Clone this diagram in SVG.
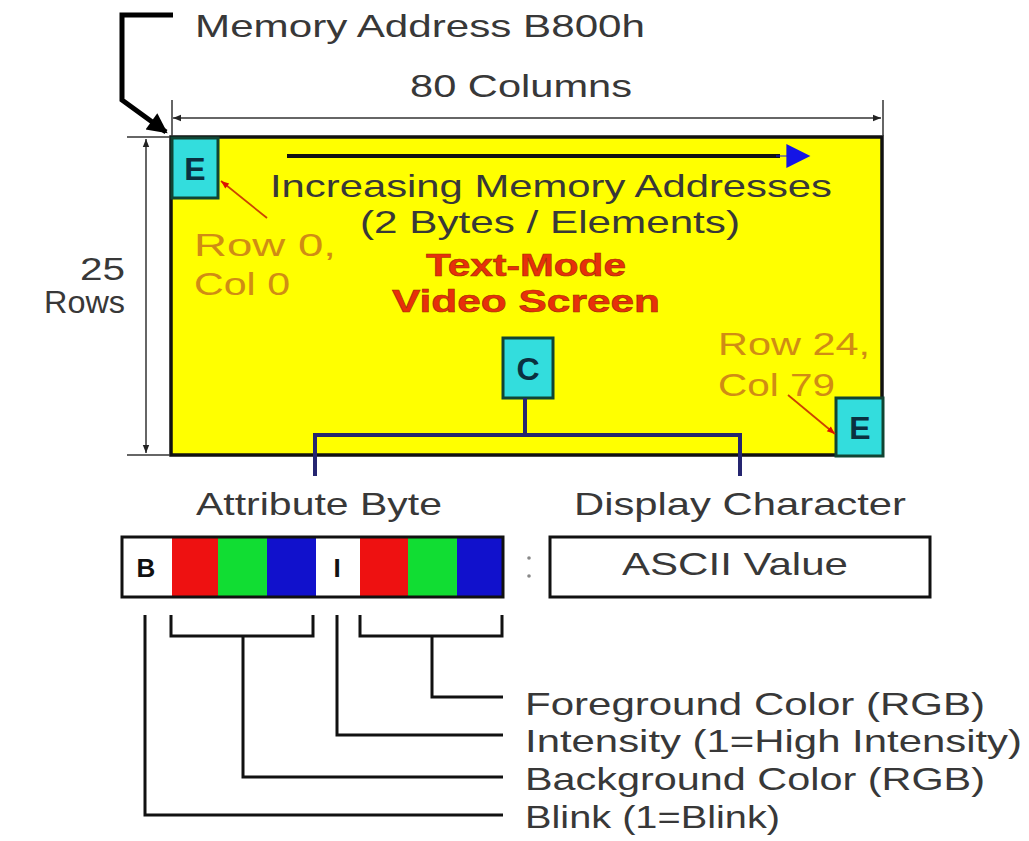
<svg xmlns="http://www.w3.org/2000/svg" width="1029" height="841" viewBox="0 0 1029 841">
<defs>
<style>
.t{font-family:"Liberation Sans",Arial,sans-serif;font-size:32px;fill:#383838}
.o{font-family:"Liberation Sans",Arial,sans-serif;font-size:32px;fill:#d08c14}
.r{font-family:"Liberation Sans",Arial,sans-serif;font-size:32px;font-weight:bold;fill:#e8300a;stroke:#a03000;stroke-width:0.6}
.box{font-family:"Liberation Sans",Arial,sans-serif;font-size:32px;font-weight:bold;fill:#0a3040;text-anchor:middle}
.bit{font-family:"Liberation Sans",Arial,sans-serif;font-size:26px;font-weight:bold;fill:#111111;text-anchor:middle}
.cell{fill:#33dddd;stroke:#114433;stroke-width:3}
.k{stroke:#111111;stroke-width:3;fill:none}
.nv{stroke:#252570;stroke-width:4;fill:none}
.dim{stroke:#333333;stroke-width:1.5;fill:none}
</style>
<marker id="sa" viewBox="0 0 10 10" refX="10" refY="5" markerWidth="10" markerHeight="8" markerUnits="userSpaceOnUse" orient="auto-start-reverse"><path d="M0,1 L10,5 L0,9 Z" fill="#222222"/></marker>
<marker id="ra" viewBox="0 0 10 10" refX="10" refY="5" markerWidth="9" markerHeight="8" markerUnits="userSpaceOnUse" orient="auto"><path d="M0,1 L10,5 L0,9 Z" fill="#dd1100"/></marker>
<marker id="ba" viewBox="0 0 10 10" refX="9" refY="5" markerWidth="32" markerHeight="24" markerUnits="userSpaceOnUse" orient="auto"><path d="M0,0 L10,5 L0,10 Z" fill="#1414e6"/></marker>
<marker id="ka" viewBox="0 0 10 10" refX="9" refY="5" markerWidth="22" markerHeight="20" markerUnits="userSpaceOnUse" orient="auto"><path d="M0,0 L10,5 L0,10 Z" fill="#000000"/></marker>
</defs>
<rect width="1029" height="841" fill="#ffffff"/>

<g id="screen">
<rect x="171" y="137" width="711" height="318" fill="#ffff00" stroke="#111111" stroke-width="3.5"/>
<text class="t" x="270" y="197" textLength="562" lengthAdjust="spacingAndGlyphs">Increasing Memory Addresses</text>
<text class="t" x="360" y="233" textLength="380" lengthAdjust="spacingAndGlyphs">(2 Bytes / Elements)</text>
<text class="r" x="426" y="276" textLength="200" lengthAdjust="spacingAndGlyphs">Text-Mode</text>
<text class="r" x="392" y="312" textLength="268" lengthAdjust="spacingAndGlyphs">Video Screen</text>
<text class="o" x="194" y="256" textLength="142" lengthAdjust="spacingAndGlyphs">Row 0,</text>
<text class="o" x="194" y="295" textLength="96" lengthAdjust="spacingAndGlyphs">Col 0</text>
<text class="o" x="718" y="355" textLength="152" lengthAdjust="spacingAndGlyphs">Row 24,</text>
<text class="o" x="718" y="396" textLength="117" lengthAdjust="spacingAndGlyphs">Col 79</text>
</g>

<g id="e-top">
<rect class="cell" x="172" y="138" width="46" height="60"/>
<text class="box" x="195" y="180">E</text>
</g>
<g id="c-cell">
<rect class="cell" x="503" y="338" width="50" height="60"/>
<text class="box" x="528" y="380">C</text>
</g>
<g id="e-bottom">
<rect class="cell" x="836" y="398" width="47" height="58"/>
<text class="box" x="860" y="439">E</text>
</g>

<g id="labels">
<text class="t" x="195" y="37" textLength="450" lengthAdjust="spacingAndGlyphs">Memory Address B800h</text>
<text class="t" x="410" y="97" textLength="222" lengthAdjust="spacingAndGlyphs">80 Columns</text>
<text class="t" x="80" y="280" textLength="45" lengthAdjust="spacingAndGlyphs">25</text>
<text class="t" x="44" y="313" textLength="81" lengthAdjust="spacingAndGlyphs">Rows</text>
<text class="t" x="196" y="515" textLength="246" lengthAdjust="spacingAndGlyphs">Attribute Byte</text>
<text class="t" x="574" y="515" textLength="332" lengthAdjust="spacingAndGlyphs">Display Character</text>
<text class="t" x="525" y="715" textLength="460" lengthAdjust="spacingAndGlyphs">Foreground Color (RGB)</text>
<text class="t" x="525" y="752" textLength="497" lengthAdjust="spacingAndGlyphs">Intensity (1=High Intensity)</text>
<text class="t" x="525" y="790" textLength="460" lengthAdjust="spacingAndGlyphs">Background Color (RGB)</text>
<text class="t" x="525" y="828" textLength="255" lengthAdjust="spacingAndGlyphs">Blink (1=Blink)</text>
</g>

<g id="attribute-byte">
<rect x="122" y="537" width="381" height="60" fill="#ffffff"/>
<rect x="172" y="537" width="46" height="60" fill="#ee1111"/>
<rect x="218" y="537" width="49" height="60" fill="#11dd33"/>
<rect x="267" y="537" width="49" height="60" fill="#1111cc"/>
<rect x="360" y="537" width="48" height="60" fill="#ee1111"/>
<rect x="408" y="537" width="49" height="60" fill="#11dd33"/>
<rect x="457" y="537" width="46" height="60" fill="#1111cc"/>
<rect x="122" y="537" width="381" height="60" fill="none" stroke="#111111" stroke-width="3"/>
<text class="bit" x="146" y="577">B</text>
<text class="bit" x="337" y="577">I</text>
</g>

<g id="separator">
<circle cx="529" cy="558" r="1.8" fill="#888888"/>
<circle cx="529" cy="576" r="1.8" fill="#888888"/>
</g>

<g id="ascii">
<rect x="550" y="537" width="380" height="60" fill="#ffffff" stroke="#111111" stroke-width="3"/>
<text class="t" x="622" y="575" textLength="226" lengthAdjust="spacingAndGlyphs">ASCII Value</text>
</g>

<g id="connectors">
<path d="M173,15 H122 V100 L166,132" stroke="#000000" stroke-width="5" fill="none" marker-end="url(#ka)"/>
<line class="dim" x1="172" y1="100" x2="172" y2="136"/>
<line class="dim" x1="883" y1="100" x2="883" y2="136"/>
<line class="dim" x1="173" y1="118" x2="881" y2="118" marker-start="url(#sa)" marker-end="url(#sa)"/>
<line class="dim" x1="127" y1="137" x2="170" y2="137"/>
<line class="dim" x1="127" y1="455" x2="170" y2="455"/>
<line class="dim" x1="146" y1="139" x2="146" y2="453" marker-start="url(#sa)" marker-end="url(#sa)"/>
<line x1="287" y1="156" x2="780" y2="156" stroke="#111111" stroke-width="4"/>
<path d="M776,156 L808,156" stroke="#1414e6" stroke-width="1" fill="none" marker-end="url(#ba)"/>
<line x1="267" y1="218" x2="221" y2="181" stroke="#cc4400" stroke-width="1.8" marker-end="url(#ra)"/>
<line x1="788" y1="395" x2="835" y2="434" stroke="#cc4400" stroke-width="1.8" marker-end="url(#ra)"/>
<path class="nv" d="M525,398 V435"/>
<path class="nv" d="M315,476 V435 H740 V476"/>
<path class="k" d="M145,615 V815 H503"/>
<path class="k" d="M171,615 V636 H313 V615"/>
<path class="k" d="M243,636 V777 H503"/>
<path class="k" d="M337,615 V735 H503"/>
<path class="k" d="M360,615 V636 H502 V615"/>
<path class="k" d="M432,636 V697 H503"/>
</g>
</svg>
